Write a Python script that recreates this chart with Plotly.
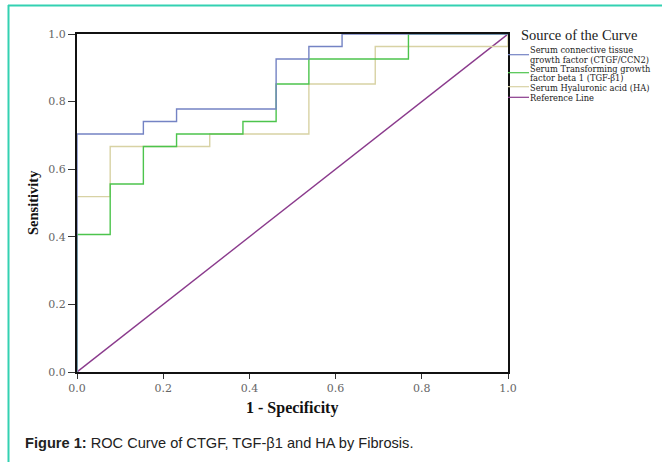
import plotly.graph_objects as go

# ROC step curves (1 - Specificity, Sensitivity)
ctgf_x = [0.0, 0.0, 0.154, 0.154, 0.231, 0.231, 0.462, 0.462, 0.538, 0.538, 0.615, 0.615, 1.0]
ctgf_y = [0.0, 0.704, 0.704, 0.741, 0.741, 0.778, 0.778, 0.926, 0.926, 0.963, 0.963, 1.0, 1.0]

tgf_x = [0.0, 0.0, 0.077, 0.077, 0.154, 0.154, 0.231, 0.231, 0.385, 0.385, 0.462, 0.462, 0.538, 0.538, 0.769, 0.769, 1.0]
tgf_y = [0.0, 0.407, 0.407, 0.556, 0.556, 0.667, 0.667, 0.704, 0.704, 0.741, 0.741, 0.852, 0.852, 0.926, 0.926, 1.0, 1.0]

ha_x = [0.0, 0.0, 0.077, 0.077, 0.308, 0.308, 0.538, 0.538, 0.692, 0.692, 1.0, 1.0]
ha_y = [0.0, 0.519, 0.519, 0.667, 0.667, 0.704, 0.704, 0.852, 0.852, 0.963, 0.963, 1.0]

ref_x = [0.0, 1.0]
ref_y = [0.0, 1.0]

names = [
    ["Serum connective tissue", "growth factor (CTGF/CCN2)"],
    ["Serum Transforming growth", "factor beta 1 (TGF-β1)"],
    ["Serum Hyaluronic acid (HA)"],
    ["Reference Line"],
]
colors = ["#7483c4", "#4cc44c", "#d8d2a4", "#8a3a8c"]
tick_vals = [0.0, 0.2, 0.4, 0.6, 0.8, 1.0]
tick_text = ["0.0", "0.2", "0.4", "0.6", "0.8", "1.0"]

fig = go.Figure()
series = [(ref_x, ref_y), (ha_x, ha_y), (tgf_x, tgf_y), (ctgf_x, ctgf_y)]
order = [3, 2, 1, 0]
for (xs, ys), i in zip(series, order):
    fig.add_trace(go.Scatter(x=xs, y=ys, mode="lines", name=" ".join(names[i]),
                             line=dict(color=colors[i], width=1.4),
                             showlegend=False, hoverinfo="skip"))

W, H = 662, 462
L, R, T, B = 77, 508, 34, 372


def px(x):
    return (x - L) / (R - L)


def py(y):
    return (B - y) / (B - T)


shapes = []
annotations = []

# teal frame (top and left edges)
shapes.append(dict(type="line", xref="paper", yref="paper", x0=px(8), x1=px(700), y0=py(5.5), y1=py(5.5),
                   line=dict(color="#33d1b2", width=2)))
shapes.append(dict(type="line", xref="paper", yref="paper", x0=px(8.5), x1=px(8.5), y0=py(5), y1=py(500),
                   line=dict(color="#33d1b2", width=2)))

# legend title
annotations.append(dict(text="Source of the Curve", xref="paper", yref="paper", x=px(519), y=py(35),
                        xanchor="left", yanchor="middle", showarrow=False,
                        font=dict(family="Liberation Serif", size=14.5, color="#222")))
legend_line_y = [54.7, 72.7, 86.7, 97.3]
legend_text_y = [[50, 59.5], [69, 78.5], [88], [98]]
for i in range(4):
    shapes.append(dict(type="line", xref="paper", yref="paper", x0=px(508), x1=px(529),
                       y0=py(legend_line_y[i]), y1=py(legend_line_y[i]),
                       line=dict(color=colors[i], width=1.2)))
    for txt, ty in zip(names[i], legend_text_y[i]):
        annotations.append(dict(text=txt, xref="paper", yref="paper", x=px(528), y=py(ty),
                                xanchor="left", yanchor="middle", showarrow=False, align="left",
                                font=dict(family="DejaVu Serif", size=8.3, color="#222")))

# axis titles
annotations.append(dict(text="<b>1 - Specificity</b>", xref="paper", yref="paper", x=px(292), y=py(408),
                        xanchor="center", yanchor="middle", showarrow=False,
                        font=dict(family="Liberation Serif", size=16, color="#111")))
annotations.append(dict(text="<b>Sensitivity</b>", xref="paper", yref="paper", x=px(33), y=py(203),
                        xanchor="center", yanchor="middle", showarrow=False, textangle=-90,
                        font=dict(family="Liberation Serif", size=14.5, color="#111")))

# caption
annotations.append(dict(text="<b>Figure 1:</b> ROC Curve of CTGF, TGF-β1 and HA by Fibrosis.",
                        xref="paper", yref="paper", x=px(23), y=py(443), xanchor="left", yanchor="middle",
                        showarrow=False, font=dict(family="Liberation Sans", size=14.6, color="#222")))

axis_common = dict(range=[0, 1], tickvals=tick_vals, ticktext=tick_text, ticks="outside",
                   tickcolor="#333", tickwidth=1.2, showline=True, linecolor="#111", linewidth=2,
                   mirror=True, showgrid=False, zeroline=False, automargin=False, domain=[0, 1],
                   tickfont=dict(family="DejaVu Serif", size=11, color="#666"))

fig.update_layout(
    template="none",
    width=W, height=H, autosize=False,
    margin=dict(l=L, r=W - R, t=T, b=H - B, pad=0),
    paper_bgcolor="white", plot_bgcolor="white",
    xaxis=dict(ticklen=5, **axis_common),
    yaxis=dict(ticklen=7, **axis_common),
    shapes=shapes, annotations=annotations,
)

fig.write_html("out.html", config={"displayModeBar": False},
               post_script="document.body.style.margin='0';document.body.style.overflow='hidden';")
